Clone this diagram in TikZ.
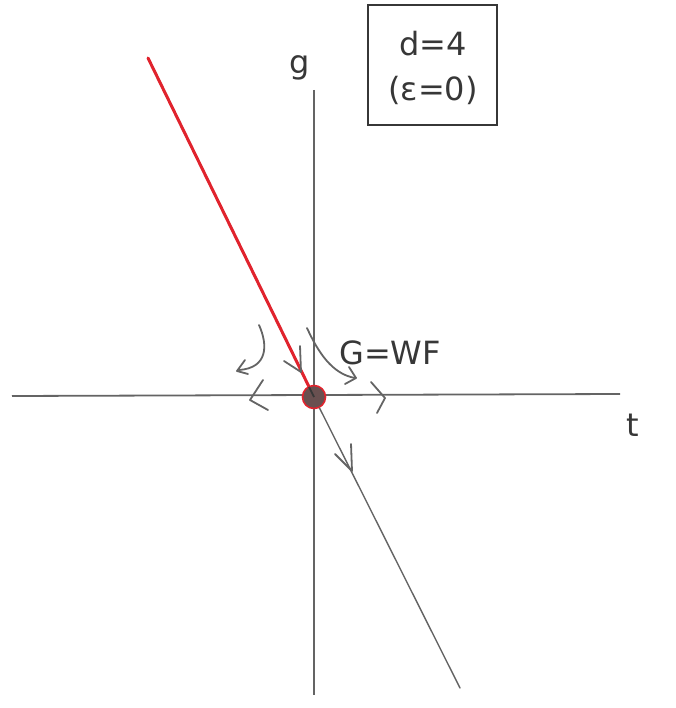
\documentclass[tikz,border=0pt]{standalone}
\usepackage{fontspec}
\setsansfont{DejaVu Sans}
\usetikzlibrary{arrows.meta}
\definecolor{pencil}{RGB}{100,100,100}
\definecolor{darkpencil}{RGB}{55,55,55}
\definecolor{redpen}{RGB}{225,35,45}
\definecolor{dotfill}{RGB}{105,80,80}
\tikzset{
  axisline/.style={draw=pencil, line width=1.8pt},
  flowline/.style={draw=pencil, line width=1.4pt, line cap=round},
  chev/.style={draw=pencil, line width=1.8pt, line cap=round, line join=round},
  redline/.style={draw=redpen, line width=3pt, line cap=round},
  hand/.style={text=darkpencil, font=\sffamily\fontsize{32}{34}\selectfont, inner sep=0pt},
  fixpt/.style={circle, fill=dotfill, draw=redpen, line width=1.6pt, minimum size=23pt, inner sep=0pt},
  labelbox/.style={draw=darkpencil, line width=2pt, minimum width=129pt, minimum height=120pt, inner sep=0pt}
}
\begin{document}
\begin{tikzpicture}[x=1pt,y=-1pt]
\useasboundingbox (0,0) rectangle (675,708);
% axes
\coordinate (tL) at (12,396);
\coordinate (tR) at (620,394);
\coordinate (gT) at (314,90);
\coordinate (gB) at (314,695);
\draw[axisline] (tL) -- (tR);
\draw[axisline] (gT) -- (gB);
\node[hand] (glab) at (300,68) {g};
\node[hand] (tlab) at (633,425) {t};
% fixed point
\node[fixpt] (O) at (314,397) {};
% red line (from upper left into the point)
\coordinate (rTop) at (148,58);
\draw[draw=darkpencil, line width=1.8pt] (rTop) -- (O.center);
\draw[redline] (rTop) -- (O);
% lower flow line
\coordinate (lEnd) at (460,688);
\draw[flowline] (O) -- (lEnd);
% arrow on lower line
\coordinate (a1) at (352,471);
\draw[chev] (335,454) -- (a1) -- (351,444);
% arrow along red line toward point
\draw[chev] (284,361) -- (301,372) -- (300,346);
% left chevron
\draw[chev] (263,380) -- (250,400) -- (268,410);
% right chevron
\draw[chev] (371,382) -- (385,398) -- (377,413);
% left hook
\draw[flowline, line width=1.8pt] (259,325) .. controls (268,345) and (268,368) .. (239,370);
\draw[chev] (245,360) -- (237,371) -- (248,374);
% right hook
\draw[flowline, line width=1.8pt] (307,328) .. controls (318,352) and (332,374) .. (355,378);
\draw[chev] (349,367) -- (356,378) -- (345,384);
% label G=WF
\node[hand, anchor=west] (gwf) at (339,353) {G=WF};
% box
\node[labelbox] (box) at (432,65) {};
\node[hand] (d4) at (433,44) {d=4};
\node[hand] (eps) at (433,90) {(ε=0)};
\end{tikzpicture}
\end{document}
